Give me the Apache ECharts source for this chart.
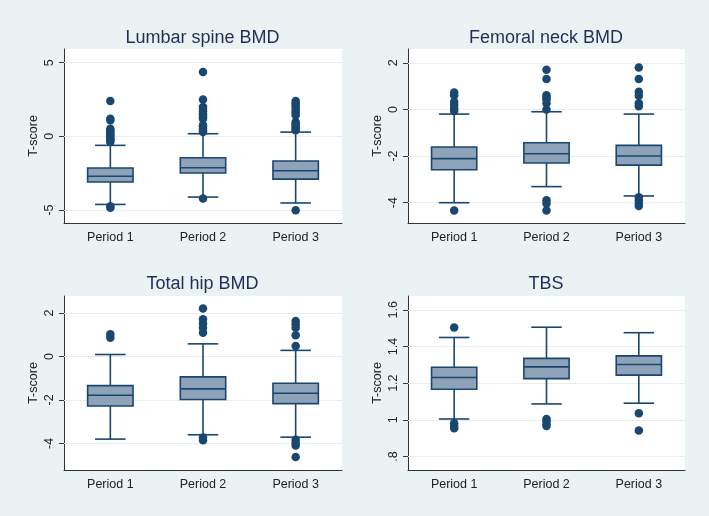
<!DOCTYPE html>
<html>
<head>
<meta charset="utf-8">
<script src="https://cdn.jsdelivr.net/npm/echarts@6/dist/echarts.min.js"></script>
<style>
html,body{margin:0;padding:0;background:#eaf2f3;}
#main{width:709px;height:516px;}
</style>
</head>
<body>
<div id="main"></div>
<script>
// ---- data ----
const categories = ['Period 1', 'Period 2', 'Period 3'];
const titles = ['Lumbar spine BMD', 'Femoral neck BMD', 'Total hip BMD', 'TBS'];

// [lower whisker, Q1, median, Q3, upper whisker] per period
const lumbarBox = [[-4.62, -3.10, -2.71, -2.15, -0.61], [-4.12, -2.49, -2.13, -1.45, 0.18], [-4.52, -2.90, -2.33, -1.67, 0.29]];
const femoralBox = [[-4.00, -2.59, -2.11, -1.61, -0.20], [-3.31, -2.30, -1.90, -1.43, -0.10], [-3.71, -2.39, -2.00, -1.54, -0.20]];
const hipBox = [[-3.80, -2.28, -1.78, -1.34, 0.09], [-3.60, -1.98, -1.49, -0.94, 0.58], [-3.71, -2.17, -1.69, -1.23, 0.28]];
const tbsBox = [[1.005, 1.167, 1.231, 1.287, 1.449], [1.087, 1.225, 1.289, 1.335, 1.505], [1.091, 1.244, 1.302, 1.349, 1.475]];

// outliers per period
const lumbarOut = [
  [2.40, 1.20, 1.09, 0.52, 0.40, 0.29, 0.18, 0.07, -0.05, -0.16, -0.27, -0.38, -4.75, -4.84],
  [4.37, 2.51, 1.99, 1.85, 1.70, 1.55, 1.43, 1.30, 1.20, 0.75, 0.63, 0.52, 0.40, 0.29, -4.21],
  [2.40, 2.25, 2.10, 1.95, 1.76, 1.60, 1.43, 0.97, 0.86, 0.75, 0.63, 0.52, 0.41, -5.02]
];
const femoralOut = [
  [0.73, 0.61, 0.33, 0.19, 0.04, -0.07, -4.33],
  [1.70, 1.30, 0.61, 0.50, 0.44, 0.26, 0.00, -3.89, -4.03, -4.33],
  [1.80, 1.30, 0.76, 0.59, 0.26, 0.14, -3.77, -3.89, -4.03, -4.14]
];
const hipOut = [
  [1.02, 0.86],
  [2.20, 1.71, 1.52, 1.32, 1.09, -3.72, -3.85],
  [1.63, 1.48, 1.32, 0.98, 0.48, -3.83, -3.98, -4.09, -4.62]
];
const tbsOut = [
  [1.504, 0.982, 0.967, 0.955],
  [1.005, 0.991, 0.976, 0.967],
  [1.036, 0.942]
];

// y-axis ranges and ticks
const yRanges = [[-5.88, 5.93], [-4.87, 2.59], [-5.22, 2.78], [0.727, 1.675]];
const yTicks = [[-5, 0, 5], [-4, -2, 0, 2], [-4, -2, 0, 2], [0.8, 1.0, 1.2, 1.4, 1.6]];
const tickFmt = v => (Math.abs(v) < 1 && v !== 0) ? String(v).replace('0.', '.') : String(v);

const boxes = [lumbarBox, femoralBox, hipBox, tbsBox];
const outs = [lumbarOut, femoralOut, hipOut, tbsOut];

// ---- layout ----
const grids = [
  {left: 64, top: 49, width: 278, height: 174},
  {left: 408, top: 49, width: 277, height: 174},
  {left: 64, top: 296, width: 278, height: 174},
  {left: 408, top: 296, width: 277, height: 174}
];
const navy = '#1a476f';
const boxFill = '#8ea3b9';
const gridLine = '#e6eef0';

const chart = echarts.init(document.getElementById('main'));

const option = {
  backgroundColor: '#eaf2f3',
  animation: false,
  title: titles.map((t, i) => ({
    text: t,
    left: grids[i].left + grids[i].width / 2 - 5.5,
    top: i < 2 ? 24 : 270,
    textAlign: 'center',
    textStyle: {fontFamily: 'Liberation Sans', fontSize: 18, fontWeight: 'normal', color: '#1f2f55'}
  })),
  grid: grids.map(g => Object.assign({show: true, backgroundColor: '#ffffff', borderWidth: 0}, g)),
  xAxis: grids.map((g, i) => ({
    type: 'category', gridIndex: i, data: categories, boundaryGap: true, position: 'bottom',
    axisLine: {onZero: false, lineStyle: {color: '#333333', width: 1}},
    axisTick: {show: false},
    splitLine: {show: false},
    axisLabel: {color: '#222222', fontFamily: 'Liberation Sans', fontSize: 12.5, margin: 8}
  })),
  yAxis: grids.map((g, i) => ({
    type: 'value', gridIndex: i, min: yRanges[i][0], max: yRanges[i][1], position: 'left',
    name: 'T-score', nameLocation: 'middle', nameRotate: 90, nameGap: 24,
    nameTextStyle: {color: '#222222', fontFamily: 'Liberation Sans', fontSize: 12.5},
    axisLine: {show: true, onZero: false, lineStyle: {color: '#333333', width: 1}},
    axisTick: {show: true, length: 5, customValues: yTicks[i], lineStyle: {color: '#333333'}},
    axisLabel: {rotate: 90, customValues: yTicks[i], formatter: tickFmt, margin: 8,
      color: '#222222', fontFamily: 'Liberation Sans', fontSize: 12.5},
    splitLine: {show: false}
  })),
  series: []
};

boxes.forEach((bx, i) => {
  // grid lines
  option.series.push({
    type: 'scatter', xAxisIndex: i, yAxisIndex: i, data: [], z: 1, silent: true,
    markLine: {
      silent: true, z: 1, symbol: ['none', 'none'], label: {show: false},
      lineStyle: {color: gridLine, width: 1.2, type: 'solid'},
      emphasis: {disabled: true},
      data: yTicks[i].map(v => ({yAxis: v}))
    }
  });
  // boxes
  option.series.push({
    type: 'custom', xAxisIndex: i, yAxisIndex: i, z: 3,
    data: bx.map((b, k) => [k].concat(b)),
    renderItem: function (params, api) {
      const k = api.value(0);
      const band = api.size([1, 0])[0];
      const bw = band * 0.49, cw = band * 0.33;
      const pLo = api.coord([k, api.value(1)]);
      const pQ1 = api.coord([k, api.value(2)]);
      const pMd = api.coord([k, api.value(3)]);
      const pQ3 = api.coord([k, api.value(4)]);
      const pHi = api.coord([k, api.value(5)]);
      const x = pMd[0];
      const ls = {stroke: navy, lineWidth: 1.6};
      return {
        type: 'group',
        children: [
          {type: 'line', shape: {x1: x, y1: pHi[1], x2: x, y2: pQ3[1]}, style: ls},
          {type: 'line', shape: {x1: x, y1: pQ1[1], x2: x, y2: pLo[1]}, style: ls},
          {type: 'line', shape: {x1: x - cw / 2, y1: pHi[1], x2: x + cw / 2, y2: pHi[1]}, style: ls},
          {type: 'line', shape: {x1: x - cw / 2, y1: pLo[1], x2: x + cw / 2, y2: pLo[1]}, style: ls},
          {type: 'rect', shape: {x: x - bw / 2, y: pQ3[1], width: bw, height: pQ1[1] - pQ3[1]},
            style: {fill: boxFill, stroke: navy, lineWidth: 1.6}},
          {type: 'line', shape: {x1: x - bw / 2, y1: pMd[1], x2: x + bw / 2, y2: pMd[1]}, style: ls}
        ]
      };
    }
  });
  // outliers
  const pts = [];
  outs[i].forEach((arr, k) => arr.forEach(v => pts.push([categories[k], v])));
  option.series.push({
    type: 'scatter', xAxisIndex: i, yAxisIndex: i, z: 4,
    symbol: 'circle', symbolSize: 8.5,
    itemStyle: {color: navy, opacity: 1},
    data: pts
  });
});

chart.setOption(option);
</script>
</body>
</html>
